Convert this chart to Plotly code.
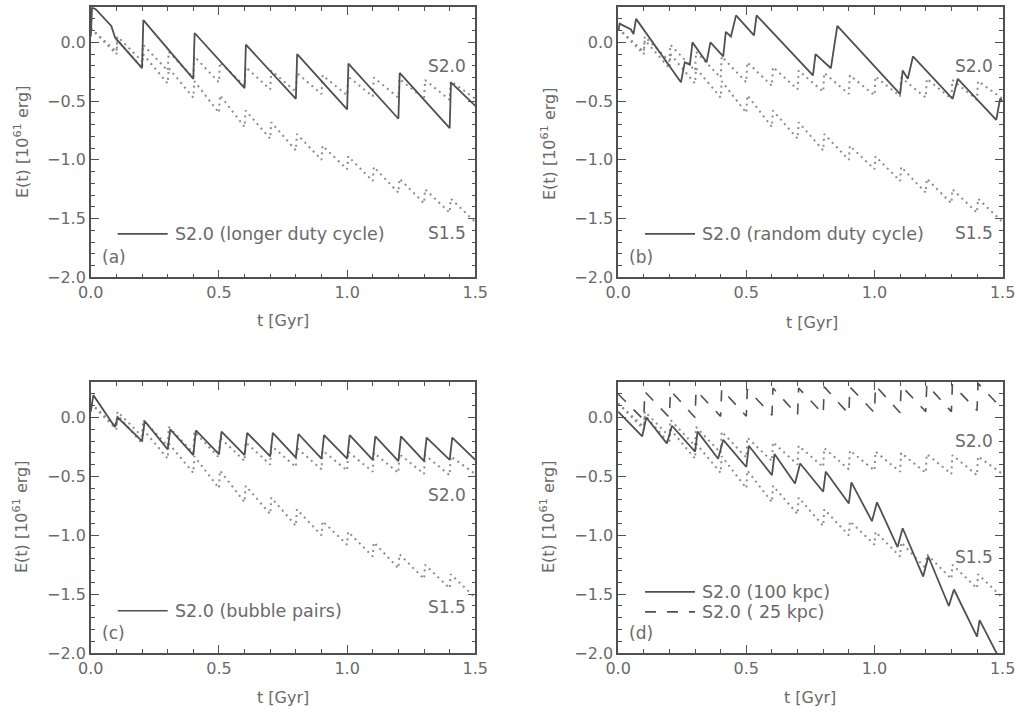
import plotly.graph_objects as go

# ---------------- data ----------------
# reference runs (dotted), sawtooth: peaks at jump times, troughs just before next jump
ref_jump_t = [0.0, 0.1, 0.2, 0.3, 0.4, 0.5, 0.6, 0.7, 0.8, 0.9, 1.0, 1.1, 1.2, 1.3, 1.4]
s20_peaks = [0.12, 0.05, -0.02, -0.08, -0.12, -0.17, -0.21, -0.24, -0.26, -0.28, -0.29, -0.30, -0.31, -0.32, -0.33]
s20_troughs = [-0.08, -0.16, -0.24, -0.30, -0.34, -0.37, -0.40, -0.42, -0.44, -0.45, -0.46, -0.47, -0.48, -0.49, -0.48]
s15_peaks = [0.12, 0.02, -0.10, -0.22, -0.33, -0.45, -0.58, -0.68, -0.78, -0.88, -0.97, -1.06, -1.16, -1.25, -1.33]
s15_troughs = [-0.10, -0.22, -0.35, -0.47, -0.60, -0.72, -0.82, -0.92, -1.00, -1.08, -1.18, -1.28, -1.37, -1.45, -1.53]

# (a) longer duty cycle
a_t = [0.0, 0.005, 0.02, 0.08, 0.095, 0.2, 0.205, 0.4, 0.405, 0.6, 0.605, 0.8, 0.805,
       1.0, 1.005, 1.2, 1.205, 1.4, 1.405, 1.5]
a_E = [0.05, 0.30, 0.28, 0.14, 0.04, -0.22, 0.19, -0.31, 0.08, -0.39, -0.02, -0.48, -0.10,
       -0.57, -0.18, -0.65, -0.26, -0.73, -0.34, -0.54]

# (b) random duty cycle
b_t = [0.0, 0.006, 0.05, 0.06, 0.07, 0.245, 0.26, 0.28, 0.29, 0.345, 0.36, 0.41, 0.42, 0.44,
       0.46, 0.53, 0.54, 0.76, 0.77, 0.83, 0.855, 1.10, 1.11, 1.13, 1.15, 1.305, 1.325, 1.475, 1.49, 1.5]
b_E = [0.10, 0.16, 0.11, 0.07, 0.20, -0.34, -0.17, -0.19, 0.00, -0.17, 0.00, -0.12, 0.09, 0.05,
       0.23, 0.06, 0.23, -0.28, -0.10, -0.22, 0.14, -0.44, -0.24, -0.31, -0.12, -0.48, -0.31, -0.66, -0.48, -0.50]

# (c) bubble pairs
c_t = [0.0, 0.01, 0.094, 0.105, 0.2, 0.21, 0.3, 0.31, 0.4, 0.41, 0.5, 0.51, 0.6, 0.61, 0.7, 0.71,
       0.8, 0.81, 0.9, 0.91, 1.0, 1.01, 1.1, 1.11, 1.2, 1.21, 1.3, 1.31, 1.4, 1.41, 1.5]
c_E = [0.05, 0.19, -0.08, 0.00, -0.20, -0.03, -0.27, -0.10, -0.32, -0.11, -0.31, -0.12, -0.32, -0.13,
       -0.33, -0.13, -0.34, -0.14, -0.35, -0.15, -0.35, -0.15, -0.36, -0.16, -0.37, -0.16, -0.37, -0.17,
       -0.36, -0.17, -0.36]

# (d) 100 kpc (solid)
d100_t = [0.0, 0.094, 0.11, 0.19, 0.21, 0.3, 0.31, 0.39, 0.41, 0.5, 0.51, 0.6, 0.61, 0.69, 0.71,
          0.8, 0.81, 0.9, 0.91, 0.99, 1.01, 1.09, 1.11, 1.19, 1.21, 1.29, 1.31, 1.4, 1.41, 1.5]
d100_E = [0.05, -0.16, 0.00, -0.22, -0.07, -0.29, -0.12, -0.35, -0.19, -0.42, -0.24, -0.49, -0.31,
          -0.56, -0.39, -0.63, -0.46, -0.73, -0.55, -0.88, -0.72, -1.10, -0.94, -1.35, -1.18, -1.60,
          -1.46, -1.86, -1.72, -2.10]
# (d) 25 kpc (dashed), sawtooth
d25_peaks = [0.20, 0.22, 0.23, 0.23, 0.24, 0.24, 0.25, 0.25, 0.26, 0.26, 0.27, 0.27, 0.28, 0.28, 0.29]
d25_troughs = [-0.02, 0.00, 0.00, 0.01, 0.01, 0.02, 0.02, 0.03, 0.03, 0.04, 0.04, 0.05, 0.05, 0.06, 0.07]

panel_labels = ["(a)", "(b)", "(c)", "(d)"]
legend_texts = ["S2.0 (longer duty cycle)", "S2.0 (random duty cycle)", "S2.0 (bubble pairs)"]
x_ticks = [0.0, 0.5, 1.0, 1.5]
y_ticks = [-2.0, -1.5, -1.0, -0.5, 0.0]


def sawtooth(jumps, peaks, troughs, period=0.1, jw=0.004):
    ts, es = [], []
    for i, (tj, p, tr) in enumerate(zip(jumps, peaks, troughs)):
        ts.append(tj + (jw if i > 0 else 0.0))
        es.append(p)
        ts.append(tj + period)
        es.append(tr)
    return ts, es


s20_t, s20_E = sawtooth(ref_jump_t, s20_peaks, s20_troughs)
s15_t, s15_E = sawtooth(ref_jump_t, s15_peaks, s15_troughs)
d25_t, d25_E = sawtooth(ref_jump_t, d25_peaks, d25_troughs)

# ---------------- styling ----------------
INK = "#505050"
TXT = "#6a6a6a"
DOT = "#8c8c8c"
FONT = "DejaVu Sans"

fig = go.Figure()

xdom = [[0.089, 0.466], [0.606, 0.983], [0.089, 0.466], [0.606, 0.983]]
ydom = [[0.611, 0.990], [0.611, 0.990], [0.084, 0.464], [0.084, 0.464]]
solids = [(a_t, a_E), (b_t, b_E), (c_t, c_E), (d100_t, d100_E)]

for i in range(4):
    xa = "x" if i == 0 else f"x{i+1}"
    ya = "y" if i == 0 else f"y{i+1}"
    for (tt, ee) in [(s20_t, s20_E), (s15_t, s15_E)]:
        fig.add_trace(go.Scatter(x=tt, y=ee, mode="lines", xaxis=xa, yaxis=ya,
                                 line=dict(color=DOT, width=2, dash="2px,4px"),
                                 showlegend=False, hoverinfo="skip"))
    if i == 3:
        fig.add_trace(go.Scatter(x=d25_t, y=d25_E, mode="lines", xaxis=xa, yaxis=ya,
                                 line=dict(color=INK, width=1.6, dash="11px,11px"),
                                 showlegend=False, hoverinfo="skip"))
    fig.add_trace(go.Scatter(x=solids[i][0], y=solids[i][1], mode="lines", xaxis=xa, yaxis=ya,
                             line=dict(color=INK, width=1.8), showlegend=False, hoverinfo="skip"))

axis_common = dict(showline=True, linecolor=INK, linewidth=1.5, mirror="ticks",
                   ticks="inside", ticklen=8, tickwidth=1.2, tickcolor=INK,
                   showgrid=False, zeroline=False, automargin=False,
                   tickfont=dict(family=FONT, size=16, color=TXT))

layout = dict(template="none", width=1020, height=713, margin=dict(l=0, r=0, t=0, b=0, pad=0),
              paper_bgcolor="white", plot_bgcolor="white", showlegend=False)

for i in range(4):
    xk = "xaxis" if i == 0 else f"xaxis{i+1}"
    yk = "yaxis" if i == 0 else f"yaxis{i+1}"
    ya = "y" if i == 0 else f"y{i+1}"
    xa = "x" if i == 0 else f"x{i+1}"
    layout[xk] = dict(axis_common, domain=xdom[i], range=[0, 1.5], anchor=ya,
                      tickvals=x_ticks, ticktext=[f"{v:.1f}" for v in x_ticks],
                      minor=dict(dtick=0.1, tick0=0, ticks="inside", ticklen=4, tickcolor=INK))
    layout[yk] = dict(axis_common, domain=ydom[i], range=[-2.0, 0.3], anchor=xa,
                      tickvals=y_ticks, ticktext=[("\u2212" if v < 0 else "") + f"{abs(v):.1f}" for v in y_ticks],
                      minor=dict(dtick=0.1, tick0=0, ticks="inside", ticklen=4, tickcolor=INK))

fig.update_layout(**layout)

ann = []
def A(text, x, y, xref, yref, size=17, xanchor="center", yanchor="middle", angle=0):
    ann.append(dict(text=text, x=x, y=y, xref=xref, yref=yref, showarrow=False,
                    xanchor=xanchor, yanchor=yanchor, textangle=angle,
                    font=dict(family=FONT, size=size, color=TXT)))

s20_y = [-0.2, -0.2, -0.66, -0.2]
s15_y = [-1.62, -1.62, -1.61, -1.18]
for i in range(4):
    xa = "x" if i == 0 else f"x{i+1}"
    ya = "y" if i == 0 else f"y{i+1}"
    A("S2.0", 1.39, s20_y[i], xa, ya)
    A("S1.5", 1.39, s15_y[i], xa, ya)
    A(panel_labels[i], 0.035, -1.83, xa, ya, xanchor="left")
    if i < 3:
        ly = -1.63 if i != 2 else -1.64
        fig.add_trace(go.Scatter(x=[0.105, 0.3], y=[ly, ly], mode="lines", xaxis=xa, yaxis=ya,
                                 line=dict(color=INK, width=1.6), showlegend=False, hoverinfo="skip"))
        A(legend_texts[i], 0.32, ly, xa, ya, xanchor="left", size=17.5)
    else:
        fig.add_trace(go.Scatter(x=[0.105, 0.3], y=[-1.48, -1.48], mode="lines", xaxis=xa, yaxis=ya,
                                 line=dict(color=INK, width=1.6), showlegend=False, hoverinfo="skip"))
        fig.add_trace(go.Scatter(x=[0.105, 0.3], y=[-1.65, -1.65], mode="lines", xaxis=xa, yaxis=ya,
                                 line=dict(color=INK, width=1.6, dash="11px,11px"), showlegend=False, hoverinfo="skip"))
        A("S2.0 (100 kpc)", 0.32, -1.48, xa, ya, xanchor="left", size=17.5)
        A("S2.0 ( 25 kpc)", 0.32, -1.65, xa, ya, xanchor="left", size=17.5)

# axis titles
ytitle = "E(t) [10<sup>61</sup> erg]"
xtitle = "t [Gyr]"
W, H = 1020.0, 713.0
for (px, py) in [(22, 142), (548, 144), (20, 517), (547, 517)]:
    A(ytitle, px / W, 1 - py / H, "paper", "paper", size=16, angle=-90)
for (px, py) in [(283, 320), (812, 322), (283, 697), (810, 697)]:
    A(xtitle, px / W, 1 - py / H, "paper", "paper", size=16)

fig.update_layout(annotations=ann)
fig.write_html("out.html", config={"displayModeBar": False},
               post_script="document.body.style.margin='0';document.body.style.overflow='hidden';")
